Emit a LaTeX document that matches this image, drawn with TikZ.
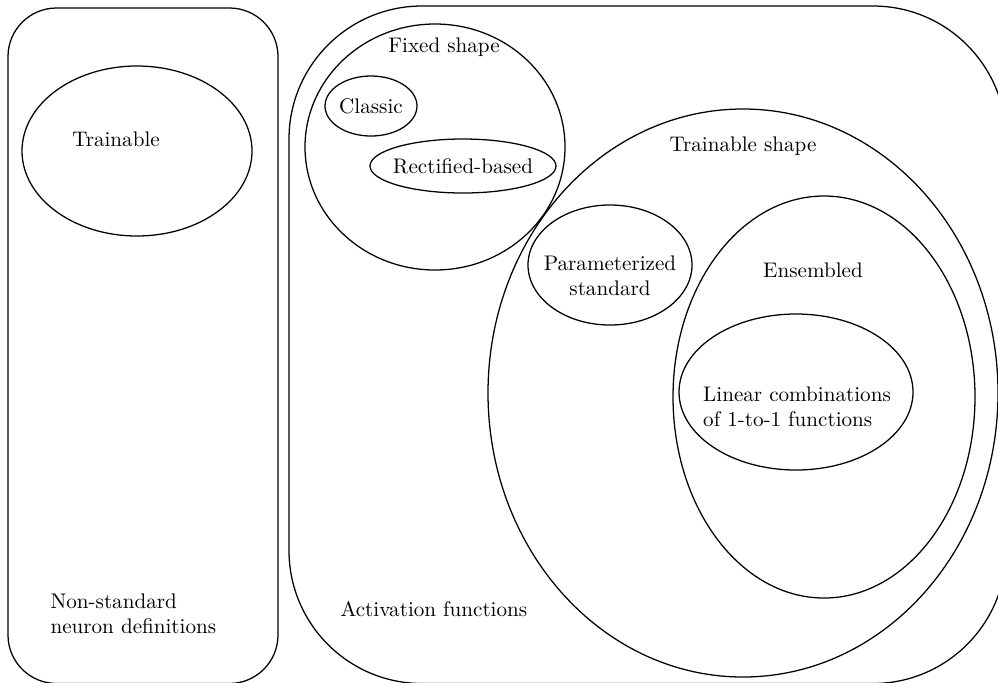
\documentclass[tikz,border=0pt]{standalone}
\usepackage{tikz}
\usetikzlibrary{positioning}

\begin{document}
\begin{tikzpicture}[x=0.4735pt, y=-0.4735pt, every node/.style={inner sep=1pt}, setline/.style={semithick, draw=black}]

    \clip (0,0) rectangle (998,682);

    % neuron definitions
    \draw[setline, rounded corners=23pt] (8,8) rectangle (278,683.5);
    \draw[setline] (137,151) ellipse [x radius=115, y radius=85];
    \node (trainable) at (116,139) {Trainable};
    \node[anchor=west, align=left] (nonstandard) at (48,614) {Non-standard\\neuron definitions};

    % activation functions
    \draw[setline, rounded corners=63pt] (289,6) rectangle (1006,683.5);
    \node[anchor=west] (activation) at (338,609) {Activation functions};

    \draw[setline] (435,147) ellipse [x radius=130, y radius=123];
    \node (fixed) at (444,47) {Fixed shape};
    \draw[setline] (371,106) ellipse [x radius=46, y radius=30];
    \node (classic) at (371,106) {Classic};
    \draw[setline] (463,166) ellipse [x radius=93, y radius=27];
    \node (rectified) at (463,166) {Rectified-based};

    \draw[setline] (743,393) ellipse [x radius=255, y radius=284];
    \node (trainshape) at (743,146) {Trainable shape};
    \draw[setline] (610,265) ellipse [x radius=82, y radius=60];
    \node[align=center] (param) at (610,276) {Parameterized\\standard};

    \draw[setline] (824,397) ellipse [x radius=151, y radius=201];
    \node (ensembled) at (813,270) {Ensembled};
    \draw[setline] (796,392) ellipse [x radius=117, y radius=78];
    \node[align=left] (linear) at (797,407) {Linear combinations\\of 1-to-1 functions};

\end{tikzpicture}
\end{document}
